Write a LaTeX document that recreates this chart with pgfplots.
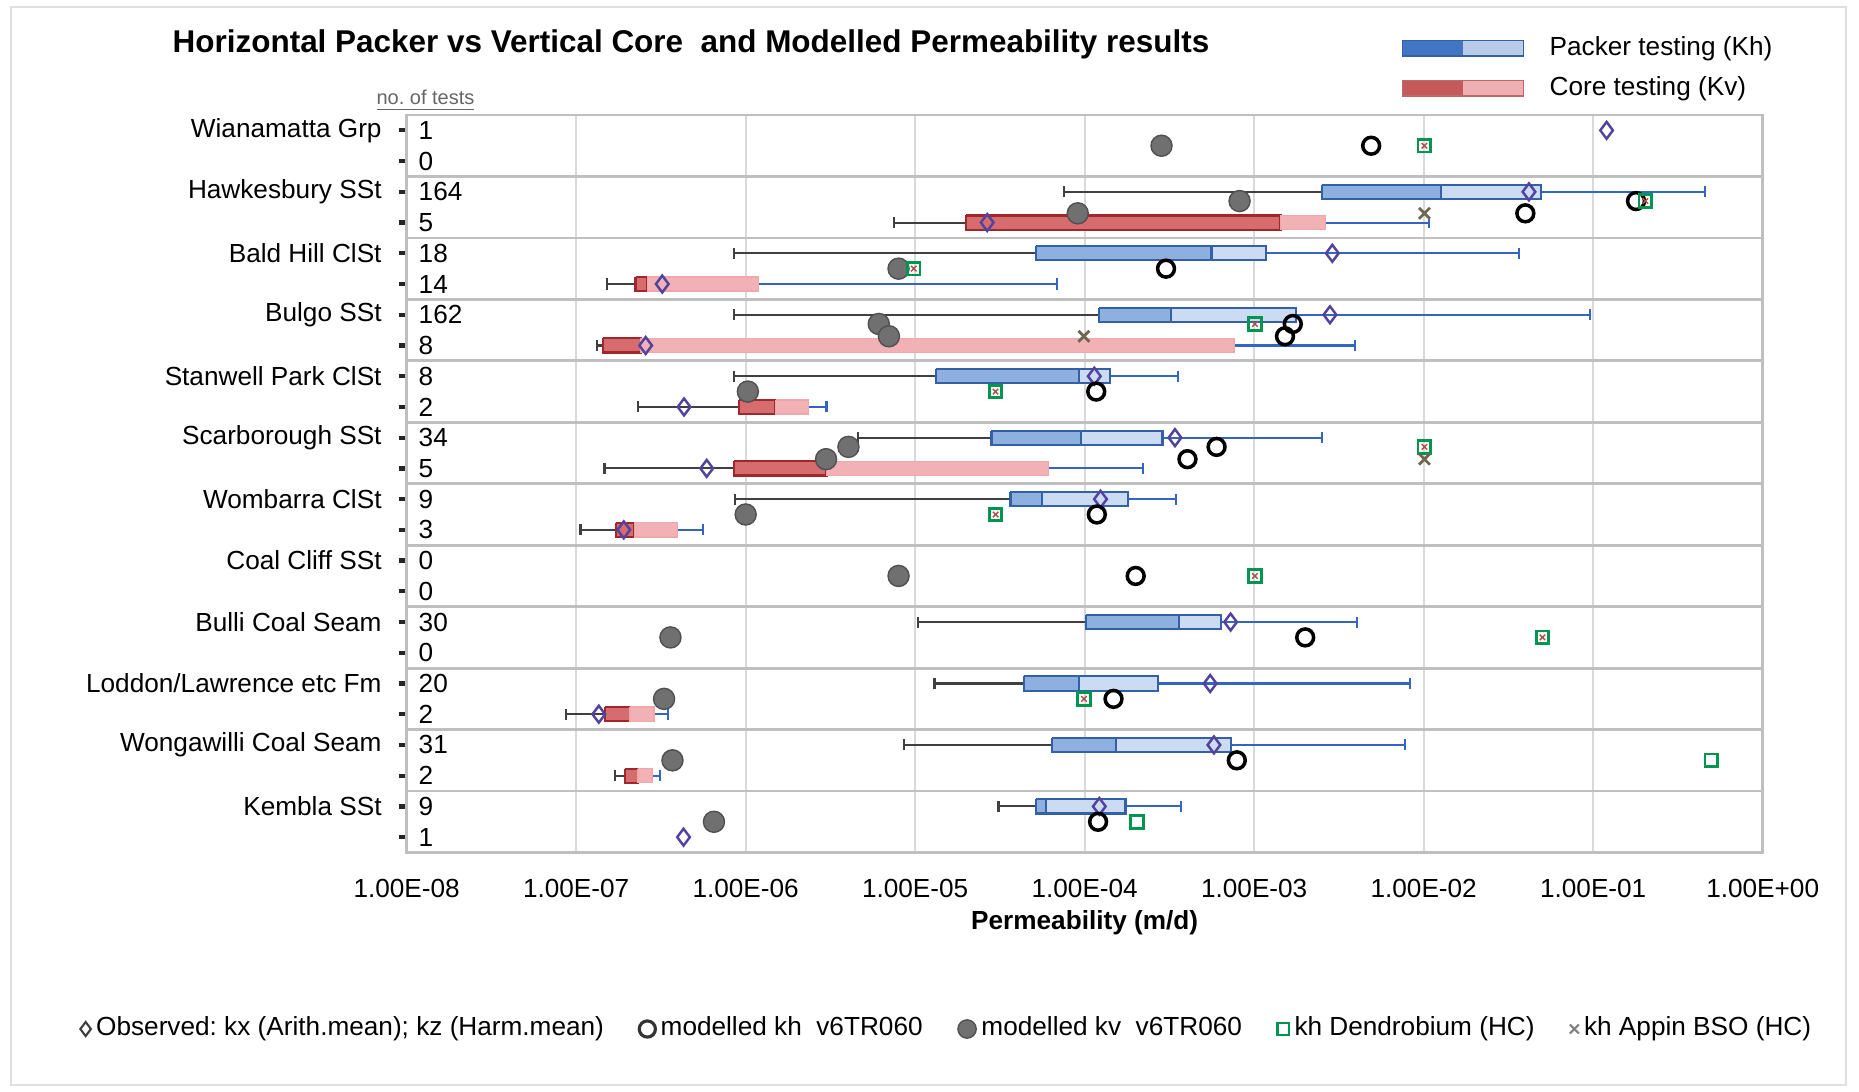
\documentclass[border=0pt]{standalone}
\usepackage{fontspec}
\setmainfont{Liberation Sans}
\usepackage{pgfplots}
\usepackage{pgfplotstable}
\pgfplotsset{compat=1.18}
\frenchspacing

\definecolor{pkA}{RGB}{141,176,222}
\definecolor{pkB}{RGB}{202,219,242}
\definecolor{pkEdge}{RGB}{52,96,168}
\definecolor{pkLegA}{RGB}{66,118,194}
\definecolor{pkLegB}{RGB}{184,204,234}
\definecolor{crA}{RGB}{214,108,110}
\definecolor{crB}{RGB}{242,178,181}
\definecolor{crEdge}{RGB}{160,40,44}
\definecolor{crLegA}{RGB}{196,90,92}
\definecolor{crLegB}{RGB}{240,175,176}
\definecolor{whiskL}{RGB}{64,64,64}
\definecolor{whiskR}{RGB}{52,100,196}
\definecolor{obsCol}{RGB}{84,66,160}
\definecolor{kvFill}{RGB}{112,112,112}
\definecolor{kvEdge}{RGB}{80,80,80}
\definecolor{dendro}{RGB}{0,150,80}
\definecolor{crossCol}{RGB}{170,80,70}
\definecolor{appin}{RGB}{110,102,80}
\definecolor{gridV}{RGB}{217,217,217}
\definecolor{gridH}{RGB}{191,191,191}

% packer (Kh) box statistics: row, min, Q1, median, Q3, max
\pgfplotstableread{
y  lo       q1       med      q3       hi
2  7.55e-5  2.5e-3   1.26e-2  4.93e-2  0.458
4  8.5e-7   5.18e-5  5.6e-4   1.17e-3  3.63e-2
6  8.5e-7   1.22e-4  3.24e-4  1.76e-3  9.53e-2
8  8.5e-7   1.32e-5  9.3e-5   1.41e-4  3.55e-4
10 4.6e-6   2.82e-5  9.46e-5  2.88e-4  2.51e-3
12 8.6e-7   3.65e-5  5.57e-5  1.81e-4  3.45e-4
16 1.04e-5  1.02e-4  3.6e-4   6.38e-4  4.06e-3
18 1.3e-5   4.37e-5  9.3e-5   2.72e-4  8.3e-3
20 8.6e-6   6.44e-5  1.53e-4  7.26e-4  7.73e-3
22 3.1e-5   5.14e-5  5.9e-5   1.74e-4  3.69e-4
}\packer

% core (Kv) box statistics
\pgfplotstableread{
y  lo       q1       med      q3       hi
3  7.46e-6  1.99e-5  1.43e-3  2.63e-3  1.07e-2
5  1.52e-7  2.24e-7  2.63e-7  1.19e-6  6.86e-5
7  1.32e-7  1.44e-7  2.4e-7   7.59e-4  3.94e-3
9  2.33e-7  9.1e-7   1.5e-6   2.34e-6  3.0e-6
11 1.47e-7  8.5e-7   3.0e-6   6.1e-5   2.2e-4
13 1.06e-7  1.71e-7  2.2e-7   3.97e-7  5.57e-7
19 8.7e-8   1.48e-7  2.08e-7  2.88e-7  3.49e-7
21 1.7e-7   1.95e-7  2.31e-7  2.8e-7   3.13e-7
}\core

\pgfplotstableread{
x        y
0.12     0
4.18e-2  2
2.66e-5  3
2.89e-3  4
3.22e-7  5
2.8e-3   6
2.57e-7  7
1.14e-4  8
4.33e-7  9
3.41e-4  10
5.89e-7  11
1.24e-4  12
1.91e-7  13
7.26e-4  16
5.5e-4   18
1.36e-7  19
5.79e-4  20
1.22e-4  22
4.3e-7   23
}\observed

\pgfplotstableread{
x        y
4.9e-3   0.5
0.179    2.3
3.98e-2  2.7
3.02e-4  4.5
1.69e-3  6.3
1.52e-3  6.7
1.17e-4  8.5
6.0e-4   10.3
4.04e-4  10.7
1.18e-4  12.5
2.0e-4   14.5
2.0e-3   16.5
1.48e-4  18.5
7.9e-4   20.5
1.2e-4   22.5
}\modkh

\pgfplotstableread{
x        y
2.84e-4  0.5
8.2e-4   2.3
9.1e-5   2.7
7.98e-6  4.5
6.1e-6   6.3
7.0e-6   6.7
1.03e-6  8.5
4.04e-6  10.3
2.98e-6  10.7
1.0e-6   12.5
7.98e-6  14.5
3.6e-7   16.5
3.3e-7   18.5
3.7e-7   20.5
6.5e-7   22.5
}\modkv

\pgfplotstableread{
x        y
1.01e-2  0.5
0.203    2.3
9.8e-6   4.5
1.01e-3  6.3
2.98e-5  8.5
1.01e-2  10.3
2.98e-5  12.5
1.01e-3  14.5
5.02e-2  16.5
9.9e-5   18.5
0.498    20.5
2.03e-4  22.5
}\dendro

\pgfplotstableread{
x        y
1.01e-2  2.7
9.9e-5   6.7
1.01e-2  10.7
}\appin

\pgfplotsset{
  whisker left/.style={draw=whiskL, line width=0.6pt},
  whisker right/.style={draw=whiskR, line width=0.6pt},
  pk box A/.style={fill=pkA, draw=pkEdge, line width=0.6pt},
  pk box B/.style={fill=pkB, draw=pkEdge, line width=0.6pt},
  cr box A/.style={fill=crA, draw=crEdge, line width=0.6pt},
  cr box B/.style={fill=crB, draw=crB!85!crA, line width=0.4pt},
}

% whiskers and two-tone boxes for every row of a table
\newcommand{\drawboxes}[3]{%
  \pgfplotstablegetrowsof{#1}%
  \pgfmathtruncatemacro{\nlast}{\pgfplotsretval-1}%
  \pgfplotsforeachungrouped \rowi in {0,...,\nlast}{%
    \pgfplotstablegetelem{\rowi}{y}\of{#1}\edef\Y{\pgfplotsretval}%
    \pgfplotstablegetelem{\rowi}{lo}\of{#1}\edef\LO{\pgfplotsretval}%
    \pgfplotstablegetelem{\rowi}{q1}\of{#1}\edef\QA{\pgfplotsretval}%
    \pgfplotstablegetelem{\rowi}{med}\of{#1}\edef\MD{\pgfplotsretval}%
    \pgfplotstablegetelem{\rowi}{q3}\of{#1}\edef\QC{\pgfplotsretval}%
    \pgfplotstablegetelem{\rowi}{hi}\of{#1}\edef\HI{\pgfplotsretval}%
    \pgfmathsetmacro{\Yt}{\Y-0.23}\pgfmathsetmacro{\Yb}{\Y+0.23}%
    \pgfmathsetmacro{\Ct}{\Y-0.18}\pgfmathsetmacro{\Cb}{\Y+0.18}%
    \edef\doplots{%
      \noexpand\addplot[forget plot,whisker left] coordinates {(\LO,\Y) (\QA,\Y)};
      \noexpand\addplot[forget plot,whisker left] coordinates {(\LO,\Ct) (\LO,\Cb)};
      \noexpand\addplot[forget plot,whisker right] coordinates {(\QC,\Y) (\HI,\Y)};
      \noexpand\addplot[forget plot,whisker right] coordinates {(\HI,\Ct) (\HI,\Cb)};
      \noexpand\addplot[forget plot,#2] coordinates {(\QA,\Yt) (\MD,\Yt) (\MD,\Yb) (\QA,\Yb) (\QA,\Yt)};
      \noexpand\addplot[forget plot,#3] coordinates {(\MD,\Yt) (\QC,\Yt) (\QC,\Yb) (\MD,\Yb) (\MD,\Yt)};
    }\doplots
  }%
}

\begin{document}
\begin{tikzpicture}[font=\fontsize{7.45}{9}\selectfont]
\path[use as bounding box] (-4.067,-2.385) rectangle (14.523,8.525);
\draw[gray!25, line width=0.6pt] (-3.96,-2.325) rectangle (14.393,8.452);
\begin{axis}[
    scale only axis,
    width=13.56cm, height=7.375cm,
    clip mode=individual,
    xmode=log, xmin=1e-8, xmax=1,
    ymin=-0.5, ymax=23.5, y dir=reverse,
    xtick={1e-8,1e-7,1e-6,1e-5,1e-4,1e-3,1e-2,1e-1,1},
    xticklabels={1.00E-08,1.00E-07,1.00E-06,1.00E-05,1.00E-04,1.00E-03,1.00E-02,1.00E-01,1.00E+00},
    xminorticks=false,
    xtick style={draw=none},
    xticklabel style={yshift=-0.06cm},
    ytick={0,...,23},
    yticklabels={1,0,164,5,18,14,162,8,8,2,34,5,9,3,0,0,30,0,20,2,31,2,9,1},
    ytick pos=left,
    yticklabel style={anchor=west, inner xsep=0pt, xshift=5.5pt},
    ytick style={black!85, line width=1.2pt},
    major tick length=0.08cm, tick align=outside,
    minor ytick={1.5,3.5,...,21.5},
    minor tick length=0pt,
    xmajorgrids=true, yminorgrids=true,
    major grid style={gridV, line width=0.6pt},
    minor grid style={gridH, line width=0.8pt},
    axis line style={gridH, line width=0.8pt},
    xlabel={Permeability (m/d)},
    xlabel style={font=\bfseries\fontsize{7.45}{9}\selectfont, at={(axis description cs:0.5,0)}, anchor=center, yshift=-0.70cm},
    legend columns=5,
    legend cell align=left,
    legend image code/.code={\draw[#1] plot coordinates {(0.08cm,0cm)};},
    legend style={draw=none, fill=none, inner sep=0pt,
      at={(axis description cs:0,0)}, anchor=west, xshift=-3.27cm, yshift=-1.765cm,
      nodes={inner xsep=1.5pt},
      /tikz/every even column/.append style={column sep=0.3cm}},
]

\drawboxes{\packer}{pk box A}{pk box B}
\drawboxes{\core}{cr box A}{cr box B}

\addplot[forget plot, only marks, mark=diamond, mark size=2.4pt,
  mark options={draw=obsCol, fill=none, line width=0.7pt}] table[x=x,y=y]{\observed};
\addplot[forget plot, only marks, mark=*, mark size=3pt,
  mark options={fill=kvFill, draw=kvEdge, line width=0.4pt}] table[x=x,y=y]{\modkv};
\addplot[forget plot, only marks, mark=o, mark size=2.4pt,
  mark options={draw=black, line width=1pt}] table[x=x,y=y]{\modkh};
\addplot[forget plot, only marks, mark=square, mark size=1.8pt,
  mark options={draw=dendro, fill=white, line width=0.8pt}] table[x=x,y=y]{\dendro};
\addplot[forget plot, only marks, mark=x, mark size=1.1pt, skip coords between index={10}{12},
  mark options={draw=crossCol, line width=0.4pt}] table[x=x,y=y]{\dendro};
\addplot[forget plot, only marks, mark=x, mark size=2.2pt,
  mark options={draw=appin, line width=0.8pt}] table[x=x,y=y]{\appin};

\addlegendimage{mark=diamond, mark size=2pt, mark options={draw=black!75, line width=0.6pt}}
\addlegendentry{Observed: kx (Arith.mean); kz (Harm.mean)}
\addlegendimage{mark=o, mark size=2.3pt, mark options={draw=black!80, line width=0.9pt}}
\addlegendentry{modelled kh\ \ v6TR060}
\addlegendimage{mark=*, mark size=2.6pt, mark options={fill=kvFill, draw=kvEdge, line width=0.4pt}}
\addlegendentry{modelled kv\ \ v6TR060}
\addlegendimage{mark=square, mark size=1.7pt, mark options={draw=dendro, line width=0.7pt}}
\addlegendentry{kh Dendrobium (HC)}
\addlegendimage{mark=x, mark size=1.8pt, mark options={draw=gray, line width=0.6pt}}
\addlegendentry{kh Appin BSO (HC)}

\node[anchor=east, inner sep=0pt] at ([xshift=-0.244cm]axis cs:1e-8,0) {Wianamatta Grp};
\node[anchor=east, inner sep=0pt] at ([xshift=-0.244cm]axis cs:1e-8,2) {Hawkesbury SSt};
\node[anchor=east, inner sep=0pt] at ([xshift=-0.244cm]axis cs:1e-8,4) {Bald Hill ClSt};
\node[anchor=east, inner sep=0pt] at ([xshift=-0.244cm]axis cs:1e-8,6) {Bulgo SSt};
\node[anchor=east, inner sep=0pt] at ([xshift=-0.244cm]axis cs:1e-8,8) {Stanwell Park ClSt};
\node[anchor=east, inner sep=0pt] at ([xshift=-0.244cm]axis cs:1e-8,10) {Scarborough SSt};
\node[anchor=east, inner sep=0pt] at ([xshift=-0.244cm]axis cs:1e-8,12) {Wombarra ClSt};
\node[anchor=east, inner sep=0pt] at ([xshift=-0.244cm]axis cs:1e-8,14) {Coal Cliff SSt};
\node[anchor=east, inner sep=0pt] at ([xshift=-0.244cm]axis cs:1e-8,16) {Bulli Coal Seam};
\node[anchor=east, inner sep=0pt] at ([xshift=-0.244cm]axis cs:1e-8,18) {Loddon/Lawrence etc Fm};
\node[anchor=east, inner sep=0pt] at ([xshift=-0.244cm]axis cs:1e-8,20) {Wongawilli Coal Seam};
\node[anchor=east, inner sep=0pt] at ([xshift=-0.244cm]axis cs:1e-8,22) {Kembla SSt};
\end{axis}

\node[anchor=base west, inner sep=0pt, font=\bfseries\fontsize{8.95}{10}\selectfont] at (-2.347,8.0)
  {Horizontal Packer vs Vertical Core\ \ and Modelled Permeability results};
\node[anchor=west, inner sep=0pt, text=black!60, font=\fontsize{5.7}{7}\selectfont] at (-0.309,7.52)
  {\underline{no. of tests}};

\fill[pkLegA] (9.959,7.965) rectangle (10.563,8.119);
\fill[pkLegB] (10.563,7.965) rectangle (11.168,8.119);
\draw[pkEdge, line width=0.5pt] (9.959,7.965) rectangle (11.168,8.119);
\node[anchor=west, inner sep=0pt] at (11.423,8.042) {Packer testing (Kh)};
\fill[crLegA] (9.959,7.565) rectangle (10.563,7.719);
\fill[crLegB] (10.563,7.565) rectangle (11.168,7.719);
\draw[crEdge!70, line width=0.5pt] (9.959,7.565) rectangle (11.168,7.719);
\node[anchor=west, inner sep=0pt] at (11.423,7.642) {Core testing (Kv)};
\end{tikzpicture}
\end{document}
